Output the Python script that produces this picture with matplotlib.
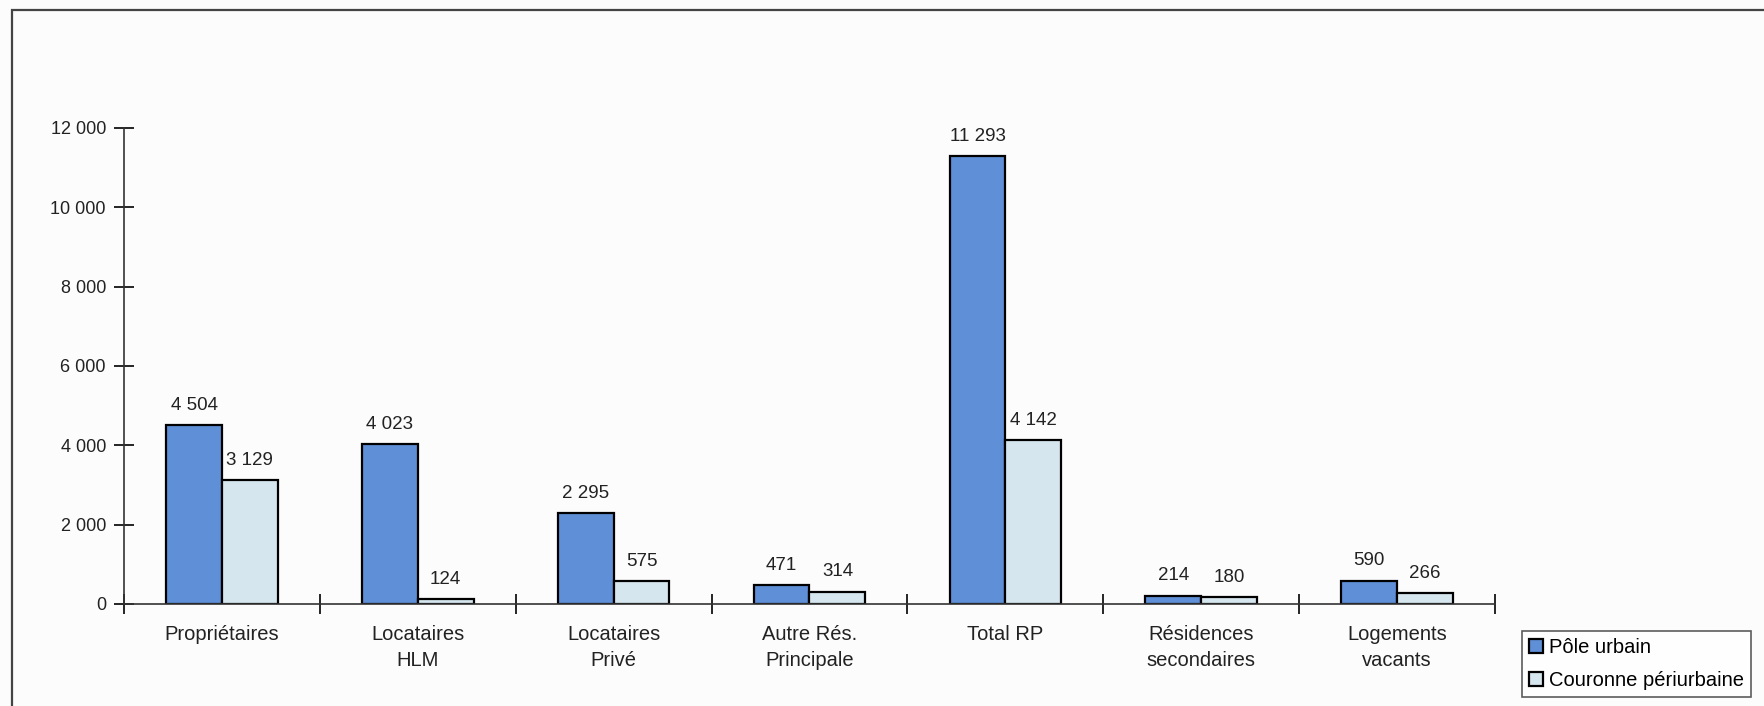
import numpy as np
import matplotlib
matplotlib.use('Agg')
import matplotlib.pyplot as plt
from matplotlib.patches import Rectangle

categories = ['Propriétaires', 'Locataires\nHLM', 'Locataires\nPrivé', 'Autre Rés.\nPrincipale',
              'Total RP', 'Résidences\nsecondaires', 'Logements\nvacants']
pole_urbain = [4504, 4023, 2295, 471, 11293, 214, 590]
couronne = [3129, 124, 575, 314, 4142, 180, 266]
yticks = [0, 2000, 4000, 6000, 8000, 10000, 12000]


def fmt(v):
    return f'{v:,}'.replace(',', ' ')


plt.rcParams['font.family'] = ['Liberation Sans', 'DejaVu Sans']

fig = plt.figure(figsize=(17.64, 7.06), dpi=100)
fig.patch.set_facecolor('#fcfcfc')
ax = fig.add_axes([124 / 1764, 1 - 604 / 706, (1495 - 124) / 1764, (604 - 128) / 706])
ax.set_facecolor('none')

# cadre extérieur (haut et gauche visibles)
fig.patches.append(Rectangle((12 / 1764, -0.1), 1.1, 1 - 10 / 706 + 0.1,
                             transform=fig.transFigure, fill=False,
                             edgecolor='#444444', linewidth=1.6))

x = np.arange(len(categories)) + 0.5
w = 0.285
b1 = ax.bar(x - w / 2, pole_urbain, w, color='#5f8fd6', edgecolor='black', linewidth=1.6,
            label='Pôle urbain')
b2 = ax.bar(x + w / 2, couronne, w, color='#d6e6ef', edgecolor='black', linewidth=1.6,
            label='Couronne périurbaine')

for bars, vals in ((b1, pole_urbain), (b2, couronne)):
    for r, v in zip(bars, vals):
        ax.annotate(fmt(v), (r.get_x() + r.get_width() / 2, v), xytext=(0, 8),
                    textcoords='offset points', ha='center', va='bottom',
                    fontsize=13.5, color='#222222')

ax.set_xlim(0, len(categories))
ax.set_ylim(0, 12000)
ax.set_yticks(yticks)
ax.set_yticklabels([fmt(t) for t in yticks], fontsize=13, color='#222222')
ax.set_xticks(np.arange(len(categories) + 1))
ax.set_xticklabels([])
ax.set_xticks(x, minor=True)
ax.set_xticklabels(categories, minor=True, fontsize=14.5, color='#222222', linespacing=1.45)
ax.tick_params(axis='x', which='minor', length=0, pad=15)
ax.tick_params(axis='x', which='major', direction='inout', length=14, width=1.2)
ax.tick_params(axis='y', direction='inout', length=14, width=1.2, pad=6)

for s in ('top', 'right'):
    ax.spines[s].set_visible(False)
for s in ('left', 'bottom'):
    ax.spines[s].set_linewidth(1.2)
    ax.spines[s].set_color('#333333')

leg = fig.legend(handles=[b1, b2], loc='lower left', bbox_to_anchor=(1522 / 1764, 1 - 697 / 706),
                 fontsize=14.5, frameon=True, fancybox=False, edgecolor='#333333',
                 handlelength=0.7, handleheight=0.7, handletextpad=0.3, borderpad=0.35,
                 labelspacing=0.7, borderaxespad=0)
leg.get_frame().set_linewidth(1.2)

fig.savefig('out.png', dpi=100)
